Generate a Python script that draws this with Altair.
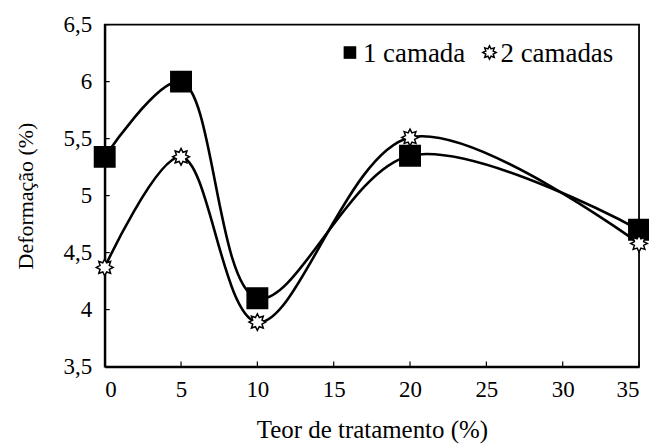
import altair as alt
import pandas as pd
import numpy as np

teor = [0, 5, 10, 20, 35]
camada1 = [5.34, 6.0, 4.1, 5.35, 4.7]
camada2 = [4.37, 5.34, 3.89, 5.51, 4.58]
series = ["1 camada", "2 camadas"]
x_ticks = [0, 5, 10, 15, 20, 25, 30, 35]
y_ticks = [3.5, 4.0, 4.5, 5.0, 5.5, 6.0, 6.5]

rows = []
for s, vals in zip(series, [camada1, camada2]):
    for t, v in zip(teor, vals):
        rows.append({"Teor": t, "Def": v, "Serie": s})
df = pd.DataFrame(rows)

# 8-point star outline for the "2 camadas" marker
pts = []
for i in range(16):
    a = np.pi / 2 + i * np.pi / 8
    r = 1.0 if i % 2 == 0 else 0.6
    pts.append((r * np.cos(a), -r * np.sin(a)))
star = "M" + " L".join(f"{x:.3f},{y:.3f}" for x, y in pts) + " Z"

FONT = "Liberation Serif"
W, H = 536, 343

xs = alt.Scale(domain=[0, 35], nice=False)
ys = alt.Scale(domain=[3.5, 6.5], nice=False)
shape_scale = alt.Scale(domain=series, range=["square", star])
fill_scale = alt.Scale(domain=series, range=["black", "white"])

ylab = "datum.value % 1 == 0 ? format(datum.value, 'd') : replace(format(datum.value, '.1f'), '.', ',')"

base = alt.Chart(df)

lines = base.mark_line(interpolate="catmull-rom", color="black", strokeWidth=2.6).encode(
    x=alt.X("Teor:Q", scale=xs,
            axis=alt.Axis(values=x_ticks, title="Teor de tratamento (%)", grid=False,
                          ticks=False, labelPadding=12, titlePadding=16,
                          labelFontSize=23, titleFontSize=25)),
    y=alt.Y("Def:Q", scale=ys,
            axis=alt.Axis(values=y_ticks, title="Deformação (%)", grid=False,
                          ticks=False, labelPadding=13, titlePadding=26, labelExpr=ylab,
                          labelFontSize=23, titleFontSize=22)),
    detail="Serie:N",
)

points = base.mark_point(filled=False, stroke="black", strokeWidth=1.5, opacity=1).encode(
    x=alt.X("Teor:Q", scale=xs),
    y=alt.Y("Def:Q", scale=ys),
    shape=alt.Shape("Serie:N", scale=shape_scale, legend=None),
    fill=alt.Fill("Serie:N", scale=fill_scale, legend=None),
    size=alt.Size("Serie:N", scale=alt.Scale(domain=series, range=[420, 280]), legend=None),
)

# manual legend (top right, inside plot)
leg1 = pd.DataFrame({"Serie": [series[0]]})
leg2 = pd.DataFrame({"Serie": [series[1]]})
leg_sym1 = alt.Chart(leg1).mark_point(filled=True, color="black", shape="square", size=160, opacity=1).encode(
    x=alt.value(246), y=alt.value(28))
leg_txt1 = alt.Chart(leg1).mark_text(align="left", baseline="middle", font=FONT, fontSize=27, color="black").encode(
    x=alt.value(259), y=alt.value(29), text="Serie:N")
leg_sym2 = alt.Chart(leg2).mark_point(filled=False, fill="white", stroke="black", strokeWidth=1.5,
                                       shape=star, size=180, opacity=1).encode(
    x=alt.value(386), y=alt.value(28))
leg_txt2 = alt.Chart(leg2).mark_text(align="left", baseline="middle", font=FONT, fontSize=27, color="black").encode(
    x=alt.value(397), y=alt.value(29), text="Serie:N")

ytick_df = pd.DataFrame({"v": y_ticks})
xtick_df = pd.DataFrame({"v": x_ticks})
yticks = alt.Chart(ytick_df).mark_rule(color="black", strokeWidth=1.2).encode(
    y=alt.Y("v:Q", scale=ys), x=alt.value(0), x2=alt.value(5))
xticks = alt.Chart(xtick_df).mark_rule(color="black", strokeWidth=1.2).encode(
    x=alt.X("v:Q", scale=xs), y=alt.value(H), y2=alt.value(H - 5))

chart = alt.layer(yticks, xticks, lines, points, leg_sym1, leg_txt1, leg_sym2, leg_txt2).properties(
    width=W, height=H,
    autosize=alt.AutoSizeParams(type="none"),
    padding={"left": 97, "top": 16, "right": 10, "bottom": 78},
).configure_view(stroke="black", strokeWidth=1.8).configure_axis(
    labelFont=FONT, titleFont=FONT,
    titleFontWeight="normal", labelColor="black", titleColor="black",
    domainColor="black", domainWidth=2.2,
).configure_text(font=FONT)

chart.save("out.html", embed_options={"renderer": "svg", "actions": False})
